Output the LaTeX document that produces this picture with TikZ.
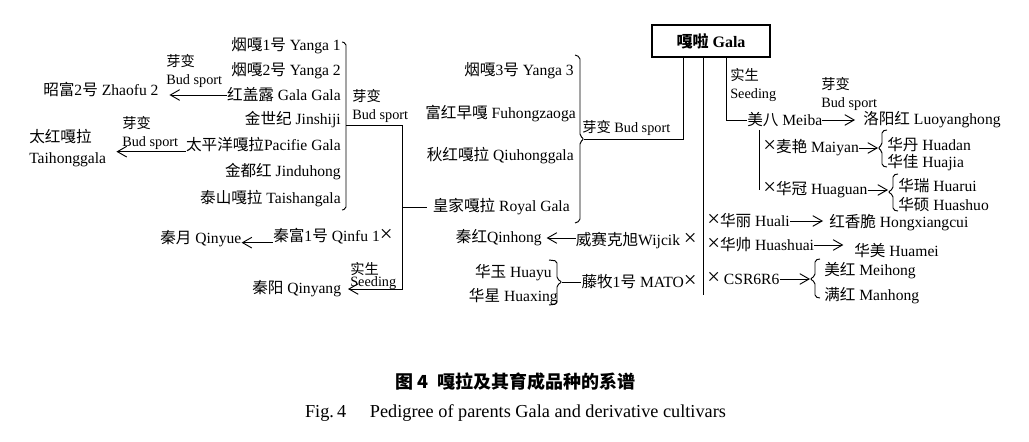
\documentclass[tikz,border=0pt]{standalone}
\usepackage{fontspec}
\setmainfont{Liberation Serif}
\newfontfamily\zhfont{Noto Sans CJK SC}
\newcommand\zh[1]{{\zhfont #1}}
\newcommand\crs{{\fontsize{17}{14}\selectfont ×}}
\usetikzlibrary{arrows.meta}

\begin{document}
\begin{tikzpicture}[x=0.75pt,y=-0.75pt,
  txt/.style={inner sep=0pt,font=\fontsize{11.7}{14}\selectfont},
  lab/.style={inner sep=0pt,align=left,font=\fontsize{10.7}{13}\selectfont},
  arr/.style={-{Straight Barb[length=7pt,width=8pt]},line width=0.7pt},
  ln/.style={line width=0.7pt},
  brk/.style={line width=0.7pt,rounded corners=1.5pt}]
  \useasboundingbox (0,0) rectangle (1029,442);

  \node[txt,anchor=east] (ya1) at (341,46) {\zh{烟嘎}1\zh{号} Yanga 1};
  \node[txt,anchor=east] (ya2) at (341,71) {\zh{烟嘎}2\zh{号} Yanga 2};
  \node[txt,anchor=east] (gg) at (341,95) {\zh{红盖露} Gala Gala};
  \node[txt,anchor=east] (jsj) at (341,120) {\zh{金世纪} Jinshiji};
  \node[txt,anchor=east] (pac) at (341,145) {\zh{太平洋嘎拉}Pacifie Gala};
  \node[txt,anchor=east] (jdh) at (341,172) {\zh{金都红} Jinduhong};
  \node[txt,anchor=east] (tsg) at (341,199) {\zh{泰山嘎拉} Taishangala};
  \node[txt,anchor=west] (zf2) at (43,90) {\zh{昭富}2\zh{号} Zhaofu 2};
  \node[lab,anchor=west] (bs1) at (166,71) {\zh{芽变}\\Bud sport};
  \node[txt,anchor=west,align=left,font=\fontsize{11.7}{15.5}\selectfont] (thg) at (29,148) {\zh{太红嘎拉}\\Taihonggala};
  \node[lab,anchor=west] (bs2) at (122,133) {\zh{芽变}\\Bud sport};
  \node[lab,anchor=west] (bs3) at (352,106) {\zh{芽变}\\Bud sport};
  \node[txt,anchor=west] (qf) at (273,236) {\zh{秦富}1\zh{号} Qinfu 1\crs};
  \node[txt,anchor=west] (qyue) at (160,239) {\zh{秦月} Qinyue};
  \node[txt,anchor=west] (qyang) at (252,289) {\zh{秦阳} Qinyang};
  \node[lab,anchor=west,font=\fontsize{10.7}{9}\selectfont] (sd1) at (350,276) {\zh{实生}\\Seeding};

  \node[txt,anchor=east] (ya3) at (574,71) {\zh{烟嘎}3\zh{号} Yanga 3};
  \node[txt,anchor=east] (fhz) at (576,114) {\zh{富红早嘎} Fuhongzaoga};
  \node[txt,anchor=east] (qhg) at (574,156) {\zh{秋红嘎拉} Qiuhonggala};
  \node[txt,anchor=east] (rg) at (570,207) {\zh{皇家嘎拉} Royal Gala};
  \node[lab,anchor=west] (bs4) at (582,128) {\zh{芽变} Bud sport};
  \node[draw,line width=0.8pt,minimum width=88.5pt,minimum height=24pt,inner sep=0pt,
    font=\bfseries\fontsize{12}{14}\selectfont] (gala) at (711,41) {\zh{嘎啦} Gala\hspace{13.5pt}};

  \node[lab,anchor=west] (sd2) at (730,85) {\zh{实生}\\Seeding};
  \node[txt,anchor=west] (mb) at (747,120) {\zh{美八} Meiba};
  \node[lab,anchor=west] (bs5) at (821,94) {\zh{芽变}\\Bud sport};
  \node[txt,anchor=west] (lyh) at (863,120) {\zh{洛阳红} Luoyanghong};
  \node[txt,anchor=west] (my) at (763,148) {\crs\zh{麦艳} Maiyan};
  \node[txt,anchor=west] (hd) at (887,145) {\zh{华丹} Huadan};
  \node[txt,anchor=west] (hj) at (887,163) {\zh{华佳} Huajia};
  \node[txt,anchor=west] (hgn) at (763,190) {\crs\zh{华冠} Huaguan};
  \node[txt,anchor=west] (hr) at (898,186) {\zh{华瑞} Huarui};
  \node[txt,anchor=west] (hso) at (898,205) {\zh{华硕} Huashuo};
  \node[txt,anchor=west] (hl) at (707,221) {\crs\zh{华丽} Huali};
  \node[txt,anchor=west] (hxc) at (829,223) {\zh{红香脆} Hongxiangcui};
  \node[txt,anchor=west] (hsh) at (707,245) {\crs\zh{华帅} Huashuai};
  \node[txt,anchor=west] (hm) at (854,251) {\zh{华美} Huamei};
  \node[txt,anchor=west] (csr) at (707,279) {\crs{} CSR6R6};
  \node[txt,anchor=west] (mh) at (824,271) {\zh{美红} Meihong};
  \node[txt,anchor=west] (mnh) at (824,296) {\zh{满红} Manhong};

  \node[txt,anchor=east] (wj) at (697,241) {\zh{威赛克旭}Wijcik \crs};
  \node[txt,anchor=east] (qh) at (542,238) {\zh{秦红}Qinhong};
  \node[txt,anchor=east] (mato) at (697,282) {\zh{藤牧}1\zh{号} MATO\crs};
  \node[txt,anchor=east] (hy) at (552,273) {\zh{华玉} Huayu};
  \node[txt,anchor=east] (hx) at (558,297) {\zh{华星} Huaxing};

  \node[inner sep=0pt,font=\bfseries\fontsize{13.5}{15}\selectfont] (cap1) at (515.5,382) {\zh{图\ 4\ \ 嘎拉及其育成品种的系谱}};
  \node[inner sep=0pt,font=\fontsize{13.7}{15}\selectfont] (cap2) at (515.5,413) {Fig.\,4\hspace{1.3em}Pedigree of parents Gala and derivative cultivars};

  \draw[arr,shorten >=8pt] (gg.west) -- (gg.west -| zf2.east);
  \draw[arr,shorten >=7.5pt] ([yshift=-5pt]pac.west) -- ([yshift=-5pt]pac.west -| thg.east);
  \draw[arr] ([yshift=-5pt]qf.west) -- ([yshift=-5pt]qf.west -| qyue.east);

  \draw[brk] (342,42) -- (346,43) -- (346,209) -- (342,210);
  \coordinate (b1) at (346,125);
  \coordinate (k1) at (402,125);
  \draw[arr,shorten >=5pt] (b1) -- (k1) |- (qyang.east);
  \draw[ln,shorten <=4.5pt] (rg.west) -- (rg.west -| k1);

  \draw[brk] (575,55) -- (580,57) -- (580,136) -- (584,139) -- (580,142) -- (580,221) -- (575,223);
  \coordinate (b2) at (584,139);
  \coordinate (v1) at (683,139);
  \draw[ln] (b2) -- (v1) -- (v1 |- gala.south);
  \coordinate (v2) at (703,295);
  \draw[ln] (v2 |- gala.south) -- (v2);
  \coordinate (v3) at (726,118);
  \draw[ln] (v3 |- gala.south) |- (mb.west);

  \draw[arr,shorten >=6pt] (mb.east) -- (lyh.west);
  \coordinate (v4) at (759,130);
  \draw[ln] (v4) -- (v4 |- hgn.center);

  \draw[brk] (887,130) -- (882,131) -- (882,145) -- (878,148) -- (882,151) -- (882,166) -- (887,167);
  \coordinate (b3) at (878,148);
  \draw[arr] (my.east) -- (b3);
  \draw[brk] (898,174) -- (893,175) -- (893,189) -- (888,192) -- (893,195) -- (893,210) -- (898,211);
  \coordinate (b4) at (888,192);
  \draw[arr] (hgn.east) -- (hgn.east -| b4);

  \draw[arr,shorten >=4.5pt] (hl.east) -- (hl.east -| hxc.west);
  \draw[arr,shorten >=8pt] (hsh.east) -- (hsh.east -| hm.west);
  \draw[brk] (820,259) -- (815,260) -- (815,276) -- (810,279) -- (815,282) -- (815,297) -- (820,298);
  \coordinate (b5) at (810,279);
  \draw[arr] (csr.east) -- (csr.east -| b5);

  \draw[arr,shorten >=3.5pt] (wj.west |- qh.east) -- (qh.east);
  \draw[brk] (549,260) -- (557,261) -- (557,279) -- (562,282) -- (557,285) -- (557,304) -- (549,305);
  \coordinate (b6) at (562,282);
  \draw[ln] (b6) -- (mato.west);
\end{tikzpicture}
\end{document}
